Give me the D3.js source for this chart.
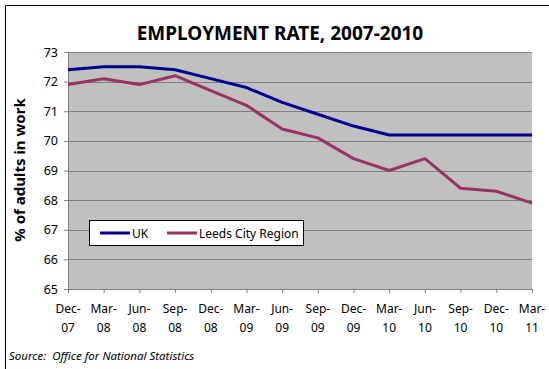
<!DOCTYPE html>
<html>
<head>
<meta charset="utf-8">
<script src="https://cdn.jsdelivr.net/npm/d3@7/dist/d3.min.js"></script>
<style>
  html, body { margin: 0; padding: 0; background: #ffffff; }
  svg { display: block; }
  text { font-family: "Noto Sans", "DejaVu Sans", sans-serif; fill: #000; }
</style>
</head>
<body>
<svg id="chart" width="549" height="369"></svg>
<script>
// Quarterly employment rate (% of adults in work)
const months = ["Dec-07","Mar-08","Jun-08","Sep-08","Dec-08","Mar-09","Jun-09",
                "Sep-09","Dec-09","Mar-10","Jun-10","Sep-10","Dec-10","Mar-11"];
const ukValues    = [72.4, 72.5, 72.5, 72.4, 72.1, 71.8, 71.3, 70.9, 70.5, 70.2, 70.2, 70.2, 70.2, 70.2];
const leedsValues = [71.9, 72.1, 71.9, 72.2, 71.7, 71.2, 70.4, 70.1, 69.4, 69.0, 69.4, 68.4, 68.3, 67.9];
const seriesNames = ["UK", "Leeds City Region"];
const yTicks = [65, 66, 67, 68, 69, 70, 71, 72, 73];

const colors = { UK: "#000090", "Leeds City Region": "#993366" };

const svg = d3.select("#chart");
const plot = { left: 68, right: 532, top: 52, bottom: 289 };

// Outer frame (top and left edges)
svg.append("path")
  .attr("d", "M5.5,369 V5.5 H549")
  .attr("fill", "none")
  .attr("stroke", "#000")
  .attr("stroke-width", 1);

const x = d3.scalePoint().domain(months).range([plot.left, plot.right]);
const y = d3.scaleLinear().domain([65, 73]).range([plot.bottom, plot.top]);

// Plot area background
svg.append("rect")
  .attr("x", plot.left).attr("y", plot.top)
  .attr("width", plot.right - plot.left).attr("height", plot.bottom - plot.top)
  .attr("fill", "#c0c0c0");

// Horizontal gridlines
svg.append("g")
  .selectAll("line")
  .data(yTicks.filter(d => d > 65))
  .join("line")
  .attr("x1", plot.left).attr("x2", plot.right)
  .attr("y1", d => Math.round(y(d)) + 0.5).attr("y2", d => Math.round(y(d)) + 0.5)
  .attr("stroke", "#808080").attr("stroke-width", 1);

// Y axis
const yAxis = svg.append("g")
  .attr("transform", `translate(${plot.left},0)`)
  .call(d3.axisLeft(y).tickValues(yTicks).tickSize(4).tickPadding(6).tickFormat(d3.format("d")));
yAxis.select(".domain").attr("stroke", "#808080");
yAxis.selectAll(".tick line").attr("stroke", "#808080");
yAxis.selectAll(".tick text").attr("font-size", 12.5).attr("font-family", "Noto Sans").attr("fill", "#000");

// X axis
const xAxis = svg.append("g")
  .attr("transform", `translate(0,${plot.bottom})`)
  .call(d3.axisBottom(x).tickSize(4).tickFormat(""));
xAxis.select(".domain").attr("stroke", "#808080");
xAxis.selectAll(".tick line").attr("stroke", "#808080");

// Two-line month labels
const xl = svg.append("g").selectAll("text")
  .data(months)
  .join("text")
  .attr("text-anchor", "middle")
  .attr("font-size", 12)
  .attr("transform", d => `translate(${x(d)},0)`);
xl.append("tspan").attr("x", 0).attr("y", 313).text(d => d.split("-")[0] + "-");
xl.append("tspan").attr("x", 0).attr("y", 332).text(d => d.split("-")[1]);

// Lines
const line = d3.line().x((d, i) => x(months[i])).y(d => y(d));
svg.append("path").datum(leedsValues)
  .attr("d", line).attr("fill", "none")
  .attr("stroke", colors["Leeds City Region"]).attr("stroke-width", 3).attr("stroke-linejoin", "round");
svg.append("path").datum(ukValues)
  .attr("d", line).attr("fill", "none")
  .attr("stroke", colors.UK).attr("stroke-width", 3).attr("stroke-linejoin", "round");

// Legend
const legend = svg.append("g");
legend.append("rect")
  .attr("x", 89.5).attr("y", 220.5).attr("width", 214).attr("height", 25)
  .attr("fill", "#fff").attr("stroke", "#000").attr("stroke-width", 1);
const legendItems = [
  { name: seriesNames[0], x0: 100 },
  { name: seriesNames[1], x0: 167 }
];
legendItems.forEach(it => {
  legend.append("line")
    .attr("x1", it.x0).attr("x2", it.x0 + 30).attr("y1", 233).attr("y2", 233)
    .attr("stroke", colors[it.name]).attr("stroke-width", 3);
  legend.append("text")
    .attr("x", it.x0 + 32).attr("y", 238)
    .attr("font-size", 12)
    .text(it.name);
});

// Title
svg.append("text")
  .attr("x", 280).attr("y", 40)
  .attr("text-anchor", "middle")
  .attr("font-size", 19).attr("font-weight", "bold")
  .text("EMPLOYMENT RATE, 2007-2010");

// Y axis title
svg.append("text")
  .attr("transform", "translate(25,170) rotate(-90)")
  .attr("text-anchor", "middle")
  .attr("font-size", 15).attr("font-weight", "bold")
  .text("% of adults in work");

// Source note
svg.append("text")
  .attr("x", 9).attr("y", 360)
  .attr("font-size", 11.5).attr("font-style", "italic")
  .attr("xml:space", "preserve")
  .text("Source:  Office for National Statistics");
</script>
</body>
</html>
